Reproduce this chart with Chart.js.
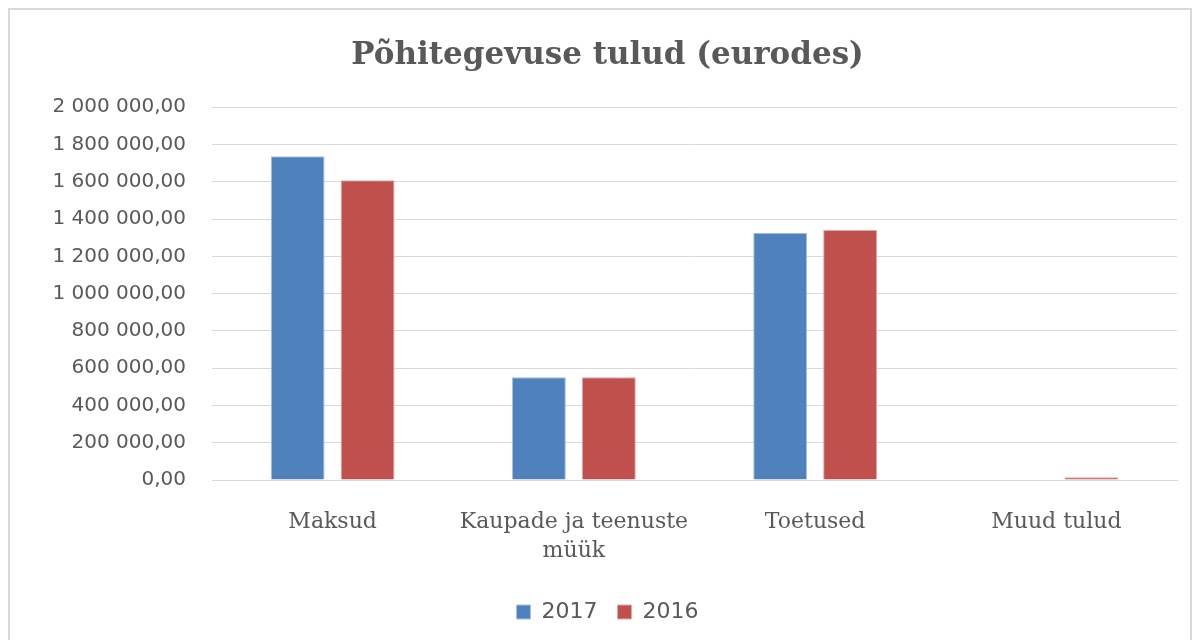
<!DOCTYPE html>
<html>
<head>
<meta charset="utf-8">
<script src="https://cdn.jsdelivr.net/npm/chart.js@4/dist/chart.umd.min.js"></script>
<style>
    body { margin: 0; background: #fff; }
    #frame {
        position: absolute; left: 8px; top: 8px;
        width: 1180px; height: 700px;
        border: 2px solid #d9d9d9;
    }
    #wrap { position: absolute; left: 0; top: 0; width: 1198px; height: 640px; }
</style>
</head>
<body>
<div id="frame"></div>
<div id="wrap"><canvas id="chart"></canvas></div>
<script>
const categories = [
    "Maksud",
    ["Kaupade ja teenuste", "müük"],
    "Toetused",
    "Muud tulud"
];
const values2017 = [1737000, 551000, 1327000, 0];
const values2016 = [1608000, 551000, 1341000, 15000];
const yTicks = [0, 200000, 400000, 600000, 800000, 1000000, 1200000, 1400000, 1600000, 1800000, 2000000];

const textGray = "#595959";

function formatEt(value) {
    const parts = Number(value).toFixed(2).split(".");
    const whole = parts[0].replace(/\B(?=(\d{3})+(?!\d))/g, " ");
    return whole + "," + parts[1];
}

new Chart(document.getElementById("chart"), {
    type: "bar",
    data: {
        labels: categories,
        datasets: [
            {
                label: "2017",
                data: values2017,
                backgroundColor: "#4F81BD",
                borderColor: "#a9c1e0",
                borderWidth: 1
            },
            {
                label: "2016",
                data: values2016,
                backgroundColor: "#C0504D",
                borderColor: "#e0a7a5",
                borderWidth: 1
            }
        ]
    },
    options: {
        responsive: true,
        maintainAspectRatio: false,
        animation: false,
        layout: {
            // left padding moves title and legend centre to the right, axis width makes up for it
            padding: { left: 38, right: 21, top: 0, bottom: 7 }
        },
        datasets: {
            bar: { categoryPercentage: 0.58, barPercentage: 0.77 }
        },
        plugins: {
            title: {
                display: true,
                text: "Põhitegevuse tulud (eurodes)",
                color: textGray,
                font: { family: "DejaVu Serif", size: 31, weight: "bold" },
                padding: { top: 37, bottom: 33 }
            },
            legend: {
                position: "bottom",
                labels: {
                    color: textGray,
                    font: { family: "DejaVu Sans", size: 22 },
                    boxWidth: 14,
                    boxHeight: 14,
                    padding: 20
                }
            },
            tooltip: { enabled: false }
        },
        scales: {
            x: {
                grid: { display: false },
                border: { display: true, color: "#d9d9d9" },
                ticks: {
                    color: textGray,
                    font: { family: "DejaVu Serif", size: 22, lineHeight: 1.3 },
                    padding: 20,
                    maxRotation: 0
                },
                afterFit: scale => { scale.height = 101; }
            },
            y: {
                min: 0,
                max: 2000000,
                afterBuildTicks: scale => {
                    scale.ticks = yTicks.map(v => ({ value: v }));
                },
                grid: { color: "#d9d9d9", drawTicks: false },
                border: { display: false },
                ticks: {
                    color: textGray,
                    font: { family: "DejaVu Sans", size: 20 },
                    padding: 26,
                    callback: value => formatEt(value)
                },
                afterFit: scale => { scale.width = 174; }
            }
        }
    }
});
</script>
</body>
</html>
